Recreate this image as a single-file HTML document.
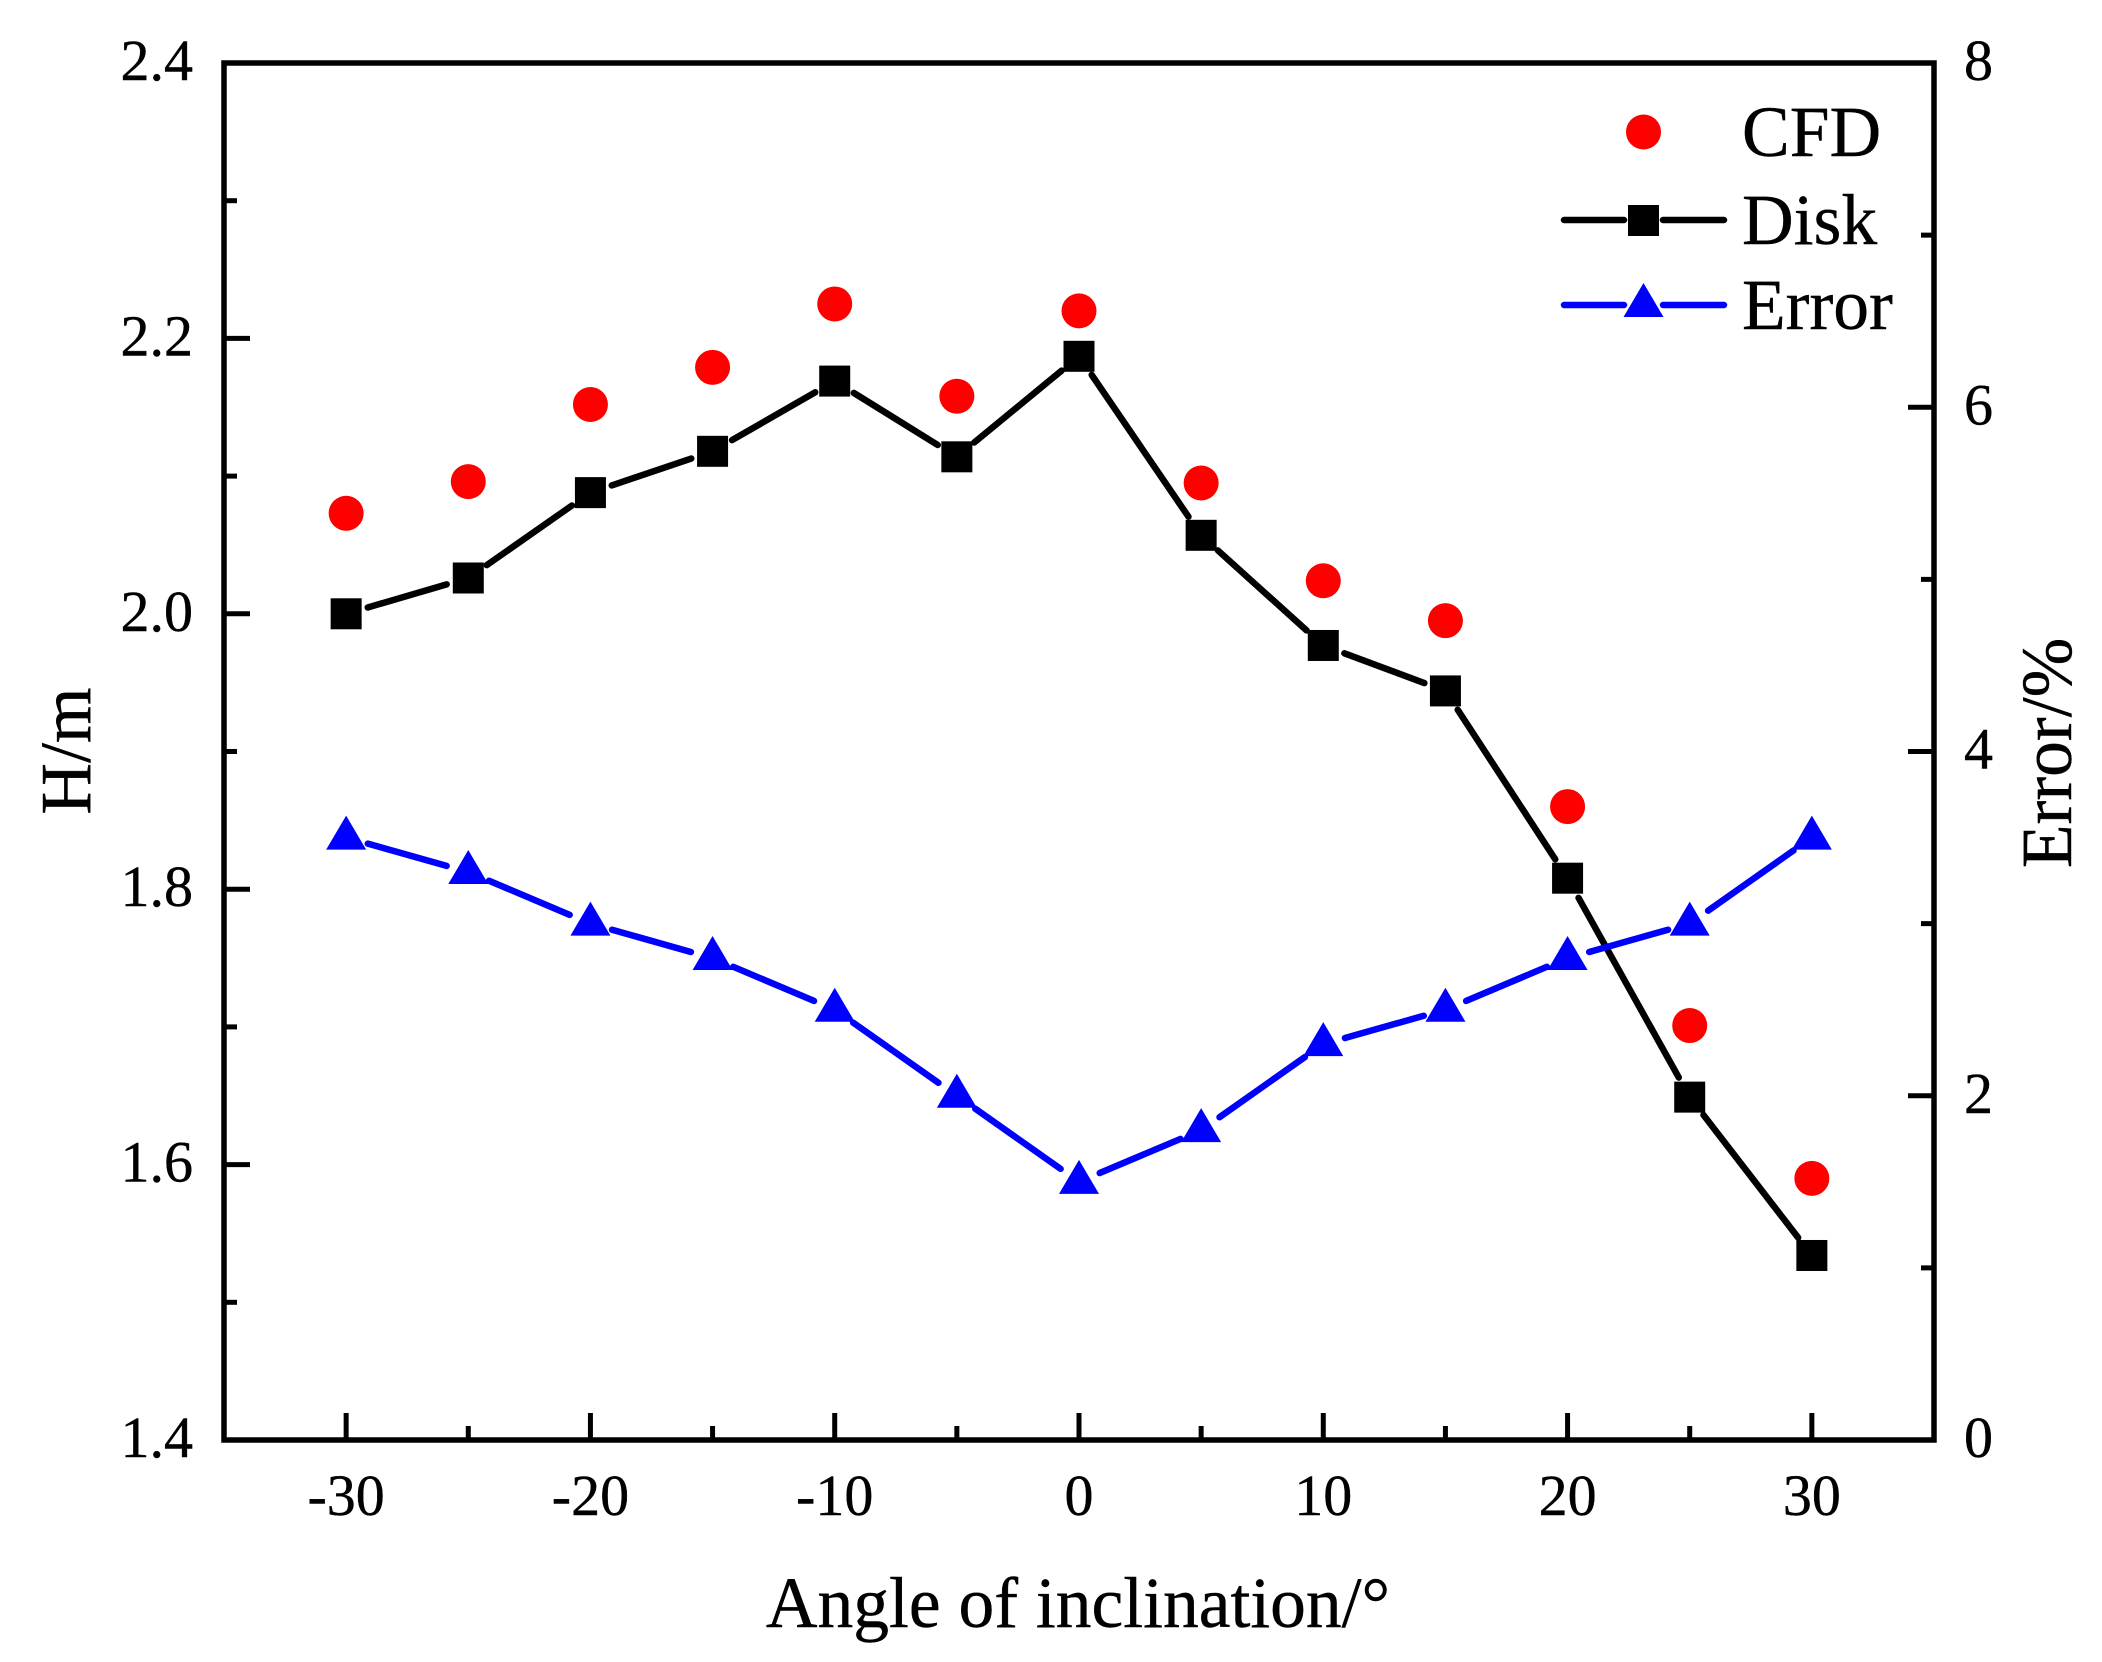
<!DOCTYPE html>
<html lang="en">
<head>
<meta charset="utf-8">
<title>H/m and Error versus Angle of inclination</title>
<style>
  html, body { margin: 0; padding: 0; background: #fff; }
  body { width: 2102px; height: 1662px; overflow: hidden; }
  svg { display: block; }
  text { font-family: "Liberation Serif", "Times New Roman", serif; fill: #000; stroke: #000; stroke-width: 0.4px; }
  .tick-label { font-size: 58px; }
  .title, .legend-text { font-size: 71.5px; }
</style>
</head>
<body>
<svg id="chart" xmlns="http://www.w3.org/2000/svg" width="2102" height="1662" viewBox="0 0 2102 1662">
  <rect x="0" y="0" width="2102" height="1662" fill="#fff"/>
  <g id="ticks"></g>
  <g id="tick-labels"></g>
  <rect x="224" y="63" width="1710" height="1377" fill="none" stroke="#000" stroke-width="5.5"/>
  <g id="cfd-series"></g>
  <g id="disk-series"></g>
  <g id="error-series"></g>

  <text class="title" x="1078" y="1627" text-anchor="middle">Angle of inclination/°</text>
  <text class="title" text-anchor="middle" transform="translate(90 751) rotate(-90)">H/m</text>
  <text class="title" text-anchor="middle" transform="translate(2071 753) rotate(-90)">Error/%</text>

  <g>
    <g>
      <circle cx="1643.5" cy="132" r="17.5" fill="#f00"/>
      <text class="legend-text" x="1742" y="156">CFD</text>
    </g>
    <g>
      <line x1="1564" y1="220" x2="1624" y2="220" stroke="#000" stroke-width="6.5" stroke-linecap="round"/>
      <line x1="1663" y1="220" x2="1724" y2="220" stroke="#000" stroke-width="6.5" stroke-linecap="round"/>
      <rect x="1628" y="205" width="31" height="31" fill="#000"/>
      <text class="legend-text" x="1742" y="244">Disk</text>
    </g>
    <g>
      <line x1="1564" y1="305" x2="1624" y2="305" stroke="#00f" stroke-width="6.5" stroke-linecap="round"/>
      <line x1="1663" y1="305" x2="1724" y2="305" stroke="#00f" stroke-width="6.5" stroke-linecap="round"/>
      <polygon points="1643.5,283 1663.5,317 1623.5,317" fill="#00f"/>
      <text class="legend-text" x="1742" y="329">Error</text>
    </g>
  </g>
</svg>

<script>
const angles = [-30, -25, -20, -15, -10, -5, 0, 5, 10, 15, 20, 25, 30];
const cfdValues = [2.073, 2.096, 2.152, 2.179, 2.225, 2.158, 2.220, 2.095, 2.024, 1.995, 1.860, 1.701, 1.590];
const diskValues = [2.000, 2.026, 2.088, 2.118, 2.169, 2.114, 2.187, 2.057, 1.977, 1.944, 1.808, 1.649, 1.534];
const errorValues = [3.5, 3.3, 3.0, 2.8, 2.5, 2.0, 1.5, 1.8, 2.3, 2.5, 2.8, 3.0, 3.5];

const xMajorTicks = [-30, -20, -10, 0, 10, 20, 30];
const xMinorTicks = [-25, -15, -5, 5, 15, 25];
const leftMajorTicks = ["1.4", "1.6", "1.8", "2.0", "2.2", "2.4"];
const leftMinorTicks = [1.5, 1.7, 1.9, 2.1, 2.3];
const rightMajorTicks = ["0", "2", "4", "6", "8"];
const rightMinorTicks = [1, 3, 5, 7];

const NS = 'http://www.w3.org/2000/svg';
const plot = { left: 224, right: 1934, top: 63, bottom: 1440 };
const xDomain = [-35, 35];
const hDomain = [1.4, 2.4];
const errDomain = [0, 8];

function xPos(v) {
  return plot.left + (v - xDomain[0]) / (xDomain[1] - xDomain[0]) * (plot.right - plot.left);
}
function hPos(v) {
  return plot.bottom - (v - hDomain[0]) / (hDomain[1] - hDomain[0]) * (plot.bottom - plot.top);
}
function errPos(v) {
  return plot.bottom - (v - errDomain[0]) / (errDomain[1] - errDomain[0]) * (plot.bottom - plot.top);
}
function make(tag, props) {
  const node = document.createElementNS(NS, tag);
  Object.keys(props).forEach(function (k) { node.setAttribute(k, props[k]); });
  return node;
}
function tickLine(x1, y1, x2, y2, name) {
  const el = make('line', { x1: x1, y1: y1, x2: x2, y2: y2, stroke: '#000', 'stroke-width': 5 });
  
  
  document.getElementById('ticks').appendChild(el);
}
function tickText(x, y, anchor, value, name) {
  const el = make('text', { x: x, y: y, 'text-anchor': anchor, class: 'tick-label' });
  el.textContent = value;
  
  
  document.getElementById('tick-labels').appendChild(el);
}

xMajorTicks.forEach(function (v) {
  tickLine(xPos(v), plot.bottom, xPos(v), plot.bottom - 27, 'x-major-tick');
  tickText(xPos(v), 1515, 'middle', String(v), 'x-tick-label');
});
xMinorTicks.forEach(function (v) {
  tickLine(xPos(v), plot.bottom, xPos(v), plot.bottom - 14, 'x-minor-tick');
});
leftMajorTicks.forEach(function (v) {
  const y = hPos(parseFloat(v));
  tickLine(plot.left, y, plot.left + 26, y, 'left-y-major-tick');
  tickText(193, y + 17, 'end', v, 'left-y-tick-label');
});
leftMinorTicks.forEach(function (v) {
  tickLine(plot.left, hPos(v), plot.left + 13, hPos(v), 'left-y-minor-tick');
});
rightMajorTicks.forEach(function (v) {
  const y = errPos(parseFloat(v));
  tickLine(plot.right, y, plot.right - 26, y, 'right-y-major-tick');
  tickText(1964, y + 17, 'start', v, 'right-y-tick-label');
});
rightMinorTicks.forEach(function (v) {
  tickLine(plot.right, errPos(v), plot.right - 13, errPos(v), 'right-y-minor-tick');
});

const symbolGap = 22.5;
function drawSegments(group, values, yPos, color, name) {
  for (let i = 0; i < values.length - 1; i++) {
    const x1 = xPos(angles[i]);
    const y1 = yPos(values[i]);
    const x2 = xPos(angles[i + 1]);
    const y2 = yPos(values[i + 1]);
    const len = Math.hypot(x2 - x1, y2 - y1);
    const ux = (x2 - x1) / len;
    const uy = (y2 - y1) / len;
    const el = make('line', {
      x1: x1 + ux * symbolGap,
      y1: y1 + uy * symbolGap,
      x2: x2 - ux * symbolGap,
      y2: y2 - uy * symbolGap,
      stroke: color,
      'stroke-width': 6.5,
      'stroke-linecap': 'round'
    });
    
    
    group.appendChild(el);
  }
}

const cfdGroup = document.getElementById('cfd-series');
cfdValues.forEach(function (v, i) {
  const el = make('circle', { cx: xPos(angles[i]), cy: hPos(v), r: 17.5, fill: '#f00' });
  
  
  cfdGroup.appendChild(el);
});

const diskGroup = document.getElementById('disk-series');
drawSegments(diskGroup, diskValues, hPos, '#000', 'disk-line-segment');
diskValues.forEach(function (v, i) {
  const el = make('rect', { x: xPos(angles[i]) - 15.5, y: hPos(v) - 15.5, width: 31, height: 31, fill: '#000' });
  
  
  diskGroup.appendChild(el);
});

const errorGroup = document.getElementById('error-series');
drawSegments(errorGroup, errorValues, errPos, '#00f', 'error-line-segment');
errorValues.forEach(function (v, i) {
  const cx = xPos(angles[i]);
  const cy = errPos(v);
  const pts = [[cx, cy - 22], [cx + 20, cy + 12], [cx - 20, cy + 12]].map(function (p) { return p.join(','); }).join(' ');
  const el = make('polygon', { points: pts, fill: '#00f' });
  
  
  errorGroup.appendChild(el);
});
</script>
</body>
</html>
